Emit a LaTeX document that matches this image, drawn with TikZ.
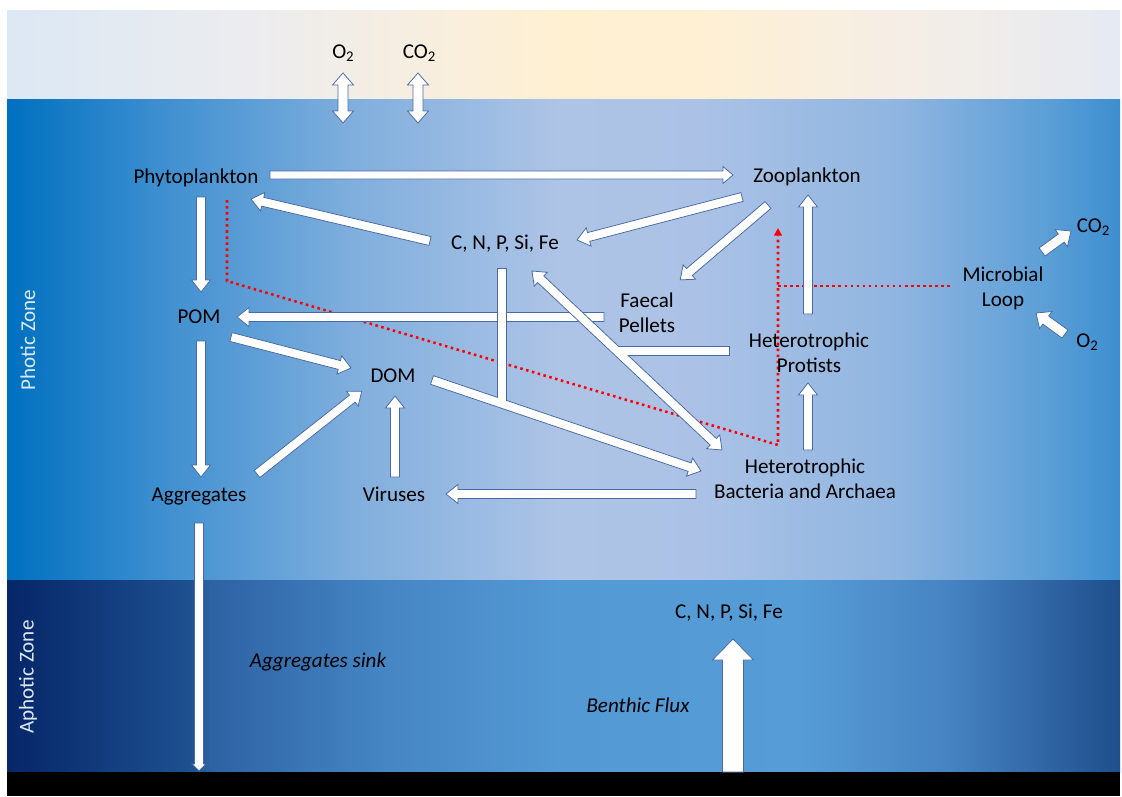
\documentclass[tikz,border=0pt]{standalone}
\usepackage{fontspec}
\setmainfont{Carlito}
\usetikzlibrary{arrows.meta}
\definecolor{arrline}{HTML}{4A6AA6}
\definecolor{zonetxt}{HTML}{DCE9F7}
\definecolor{dotred}{HTML}{FF0000}
% sky stops
\definecolor{s1}{HTML}{DCE8F4}\definecolor{s2}{HTML}{ECECEF}\definecolor{s3}{HTML}{FFF0D2}
\definecolor{s4}{HTML}{FFF0D4}\definecolor{s5}{HTML}{F5EEE6}\definecolor{s6}{HTML}{E6EAF2}
% photic stops
\definecolor{p1}{HTML}{0070C0}\definecolor{p2}{HTML}{3A8DCF}\definecolor{p3}{HTML}{7FAEDD}
\definecolor{p4}{HTML}{AEC4E6}\definecolor{p5}{HTML}{ABC2E6}\definecolor{p6}{HTML}{8FB5E0}
\definecolor{p7}{HTML}{5A9ED6}\definecolor{p8}{HTML}{3D8ED0}
% aphotic stops
\definecolor{q1}{HTML}{062668}\definecolor{q2}{HTML}{1E5090}\definecolor{q3}{HTML}{2D62A3}
\definecolor{q4}{HTML}{4585C4}\definecolor{q5}{HTML}{5399D4}\definecolor{q6}{HTML}{569CD6}
\definecolor{q7}{HTML}{4683C2}\definecolor{q8}{HTML}{1F4E8C}
\newcommand\PX{0.71132}
\newcommand\subtwo{\raisebox{-2.6pt}{\fontsize{10.5}{12}\selectfont 2}}
\newcommand\grad[6]{\shade[left color=#4,right color=#6] (#3,#1) rectangle ({#5+0.8},#2);}
\newcommand\bkprep[2]{%
  \pgfpointanchor{#1}{center}\pgfgetlastxy\bkAx\bkAy
  \pgfpointanchor{#2}{center}\pgfgetlastxy\bkBx\bkBy
  \pgfmathsetmacro\bkAng{atan2(\bkBy-\bkAy,\bkBx-\bkAx)}%
  \pgfmathsetmacro\bkL{veclen(\bkBx-\bkAx,\bkBy-\bkAy)}}
% single block arrow: [opts]{from}{to}{shaft w}{head w}{head l} (px)
\newcommand\blk[6][]{%
  \bkprep{#2}{#3}%
  \pgfmathsetmacro\bkw{#4*\PX/2}\pgfmathsetmacro\bkh{#5*\PX/2}\pgfmathsetmacro\bkb{\bkL-#6*\PX}%
  \begin{scope}[shift={(\bkAx,\bkAy)},rotate=\bkAng]
  \path[blkstyle,#1] (0pt,\bkw pt) -- (\bkb pt,\bkw pt) -- (\bkb pt,\bkh pt) -- (\bkL pt,0pt)
     -- (\bkb pt,-\bkh pt) -- (\bkb pt,-\bkw pt) -- (0pt,-\bkw pt) -- cycle;
  \end{scope}}
% double block arrow
\newcommand\dblk[6][]{%
  \bkprep{#2}{#3}%
  \pgfmathsetmacro\bkw{#4*\PX/2}\pgfmathsetmacro\bkh{#5*\PX/2}%
  \pgfmathsetmacro\bka{#6*\PX}\pgfmathsetmacro\bkb{\bkL-#6*\PX}%
  \begin{scope}[shift={(\bkAx,\bkAy)},rotate=\bkAng]
  \path[blkstyle,#1] (0pt,0pt) -- (\bka pt,\bkh pt) -- (\bka pt,\bkw pt) -- (\bkb pt,\bkw pt)
     -- (\bkb pt,\bkh pt) -- (\bkL pt,0pt) -- (\bkb pt,-\bkh pt) -- (\bkb pt,-\bkw pt)
     -- (\bka pt,-\bkw pt) -- (\bka pt,-\bkh pt) -- cycle;
  \end{scope}}
% bar (no head)
\newcommand\bkbar[4][]{%
  \bkprep{#2}{#3}%
  \pgfmathsetmacro\bkw{#4*\PX/2}%
  \begin{scope}[shift={(\bkAx,\bkAy)},rotate=\bkAng]
  \path[blkstyle,#1] (0pt,\bkw pt) -- (\bkL pt,\bkw pt) -- (\bkL pt,-\bkw pt) -- (0pt,-\bkw pt) -- cycle;
  \end{scope}}
% inner refill of a bar (joins it to the arrow it meets)
\newcommand\bkinner[3]{%
  \bkprep{#1}{#2}%
  \pgfmathsetmacro\bkw{#3*\PX/2-0.45}\pgfmathsetmacro\bkb{\bkL}%
  \begin{scope}[shift={(\bkAx,\bkAy)},rotate=\bkAng]
  \fill[white] (0.45pt,\bkw pt) -- (\bkb pt,\bkw pt) -- (\bkb pt,-\bkw pt) -- (0.45pt,-\bkw pt) -- cycle;
  \end{scope}}
\tikzset{
  blkstyle/.style={fill=white,draw=arrline,line width=0.55pt,line join=miter},
  lbl/.style={font=\fontsize{15}{17.8}\selectfont,text=black,inner sep=0pt},
  multi/.style={lbl,align=center},
  ital/.style={font=\fontsize{15}{17.8}\selectfont\itshape,text=black,inner sep=0pt},
  zone/.style={font=\fontsize{15}{17.8}\selectfont,text=zonetxt,rotate=90,inner sep=0pt},
  reddot/.style={draw=dotred,line width=1.8pt,dash pattern=on 1.8pt off 2.5pt},
}
\begin{document}
\begin{tikzpicture}[x=0.025cm,y=-0.025cm]
\useasboundingbox (0,0) rectangle (1122,796);
\fill[white] (0,0) rectangle (1122,796);
% ---------- backgrounds ----------
\grad{10}{99}{7}{s1}{250}{s2}\grad{10}{99}{250}{s2}{560}{s3}\grad{10}{99}{560}{s3}{700}{s4}
\grad{10}{99}{700}{s4}{900}{s5}\grad{10}{99}{900}{s5}{1119.2}{s6}
\grad{99}{580}{7}{p1}{150}{p2}\grad{99}{580}{150}{p2}{350}{p3}\grad{99}{580}{350}{p3}{560}{p4}
\grad{99}{580}{560}{p4}{700}{p5}\grad{99}{580}{700}{p5}{900}{p6}\grad{99}{580}{900}{p6}{1050}{p7}
\grad{99}{580}{1050}{p7}{1119.2}{p8}
\grad{580}{772}{7}{q1}{190}{q2}\grad{580}{772}{190}{q2}{210}{q3}\grad{580}{772}{210}{q3}{380}{q4}
\grad{580}{772}{380}{q4}{560}{q5}\grad{580}{772}{560}{q5}{800}{q6}\grad{580}{772}{800}{q6}{950}{q7}
\grad{580}{772}{950}{q7}{1119.2}{q8}
\fill[black] (7,772) rectangle (1120,796);
% ---------- coordinates ----------
\coordinate (a1s) at (270,175);  \coordinate (a1e) at (733,175);
\coordinate (a2s) at (201,197);  \coordinate (a2e) at (201,292);
\coordinate (a3s) at (430,241);  \coordinate (a3e) at (251,199);
\coordinate (a4s) at (742,197);  \coordinate (a4e) at (577,240);
\coordinate (a5s) at (768,205);  \coordinate (a5e) at (680,280);
\coordinate (a6s) at (604,317);  \coordinate (a6e) at (237,317);
\coordinate (a7s) at (231,337);  \coordinate (a7e) at (351,368);
\coordinate (a8s) at (201,341);  \coordinate (a8e) at (201,477);
\coordinate (a9s) at (257,474);  \coordinate (a9e) at (362,391);
\coordinate (a10s) at (395,477); \coordinate (a10e) at (395,396);
\coordinate (a11s) at (696,494); \coordinate (a11e) at (446,494);
\coordinate (a12s) at (432,380); \coordinate (a12e) at (701,471);
\coordinate (b1s) at (502,268);  \coordinate (b1e) at (502,404);
\coordinate (a13s) at (532,271); \coordinate (a13e) at (722,450);
\coordinate (b2s) at (729,351);  \coordinate (b2e) at (617,351);
\coordinate (a14s) at (808,450); \coordinate (a14e) at (808,383);
\coordinate (a15s) at (808,314); \coordinate (a15e) at (808,195);
\coordinate (a16s) at (1042,252);\coordinate (a16e) at (1071,231);
\coordinate (a17s) at (1065,334);\coordinate (a17e) at (1036,313);
\coordinate (a18s) at (199,523); \coordinate (a18e) at (199,771);
\coordinate (a19s) at (733,772); \coordinate (a19e) at (733,639);
\coordinate (a20s) at (343,73);  \coordinate (a20e) at (343,123);
\coordinate (a21s) at (418,73);  \coordinate (a21e) at (418,123);
\coordinate (r1) at (227,200); \coordinate (r2) at (227,281); \coordinate (r3) at (778,445);
\coordinate (r4) at (778,228); \coordinate (r5) at (778,286); \coordinate (r6) at (952,286);
% ---------- red dotted microbial loop ----------
\draw[reddot,-{Triangle[length=5.5pt,width=5.5pt,fill=dotred]}] (r1) -- (r2) -- (r3) -- (r4);
\draw[reddot] (r5) -- (r6);
% ---------- arrows ----------
\blk{a6s}{a6e}{9}{19}{12}
\bkbar{b1s}{b1e}{9}
\blk{a12s}{a12e}{9}{19}{12}
\bkinner{b1s}{b1e}{9}
\bkbar{b2s}{b2e}{9}
\dblk{a13s}{a13e}{9}{19}{12}
\bkinner{b2s}{b2e}{9}
\blk{a1s}{a1e}{8}{17}{10}
\blk{a2s}{a2e}{9}{19}{12}
\blk{a3s}{a3e}{9}{19}{12}
\blk{a4s}{a4e}{9}{19}{12}
\blk{a5s}{a5e}{9}{19}{12}
\blk{a7s}{a7e}{9}{19}{12}
\blk{a8s}{a8e}{9}{19}{12}
\blk{a9s}{a9e}{9}{19}{12}
\blk{a10s}{a10e}{9}{19}{12}
\blk{a11s}{a11e}{9}{19}{12}
\blk{a14s}{a14e}{9}{19}{12}
\blk{a15s}{a15e}{9}{19}{12}
\blk{a16s}{a16e}{10}{21}{12}
\blk{a17s}{a17e}{10}{21}{12}
\blk{a18s}{a18e}{9}{14}{7}
\blk{a19s}{a19e}{21}{41}{21}
\dblk{a20s}{a20e}{10}{21}{12}
\dblk{a21s}{a21e}{10}{21}{12}
% ---------- labels ----------
\node[lbl,anchor=base] (o2top) at (343,58) {O\subtwo};
\node[lbl,anchor=base] (co2top) at (419,58) {CO\subtwo};
\node[lbl,anchor=base] (phyto) at (196,183) {Phytoplankton};
\node[lbl,anchor=base] (zoo) at (807,182) {Zooplankton};
\node[lbl,anchor=base] (cnp) at (505,249) {C, N, P, Si, Fe};
\node[multi] (faecal) at (647,313) {Faecal\\Pellets};
\node[lbl,anchor=base] (pom) at (199,323) {POM};
\node[multi] (protists) at (809,353) {Heterotrophic\\Protists};
\node[multi] (mloop) at (1003,288.5) {Microbial\\Loop};
\node[lbl,anchor=base] (co2r) at (1093,232) {CO\subtwo};
\node[lbl,anchor=base] (o2r) at (1087,347) {O\subtwo};
\node[lbl,anchor=base] (dom) at (393,382) {DOM};
\node[lbl,anchor=base] (aggr) at (199,501) {Aggregates};
\node[lbl,anchor=base] (vir) at (394,501) {Viruses};
\node[multi] (bact) at (805,479) {Heterotrophic\\Bacteria and Archaea};
\node[lbl,anchor=base] (cnpdeep) at (729,618) {C, N, P, Si, Fe};
\node[ital,anchor=base] (sink) at (318,667) {Aggregates sink};
\node[ital,anchor=base] (benthic) at (638,712) {Benthic Flux};
\node[zone] (photic) at (28,340) {Photic Zone};
\node[zone] (aphotic) at (28,677) {Aphotic Zone};
\end{tikzpicture}
\end{document}
